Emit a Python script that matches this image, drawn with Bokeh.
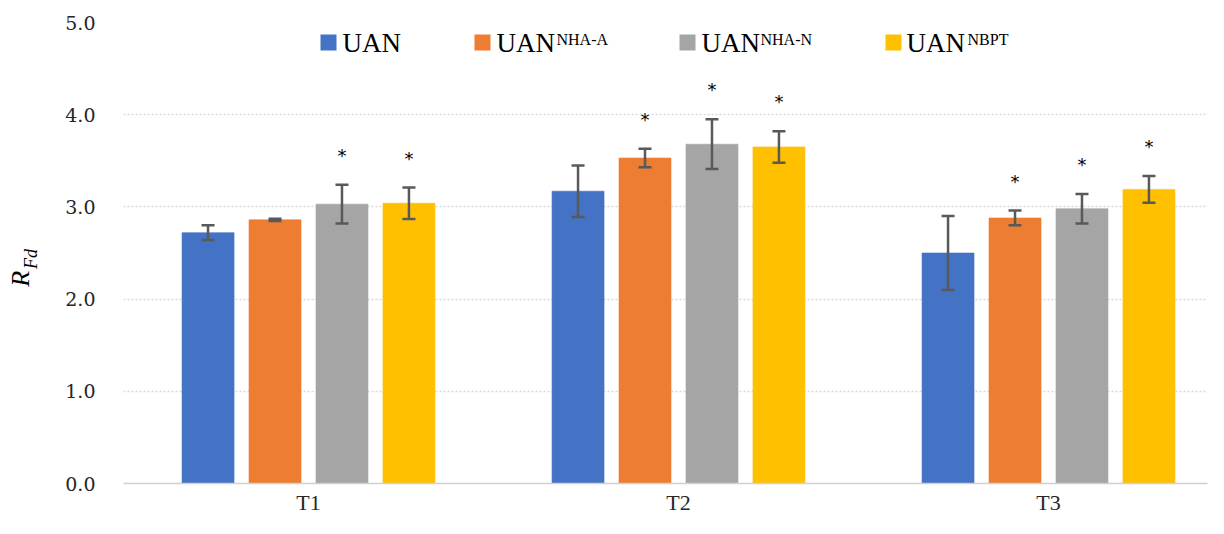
import math
from bokeh.plotting import figure
from bokeh.layouts import row
from bokeh.models import ColumnDataSource, Whisker, TeeHead, Label, FixedTicker, Range1d
from bokeh.core.properties import value
from bokeh.embed import file_html
from bokeh.resources import INLINE

# ---- data ----
categories = ["T1", "T2", "T3"]
series_sup = ["", "NHA-A", "NHA-N", "NBPT"]
colors = ["#4472C4", "#ED7D31", "#A5A5A5", "#FFC000"]

uan = [2.72, 3.17, 2.50]
uan_err = [0.08, 0.28, 0.40]
nha_a = [2.86, 3.53, 2.88]
nha_a_err = [0.012, 0.10, 0.08]
nha_n = [3.03, 3.68, 2.98]
nha_n_err = [0.21, 0.27, 0.16]
nbpt = [3.04, 3.65, 3.19]
nbpt_err = [0.17, 0.17, 0.145]

uan_sig = [False, False, False]
nha_a_sig = [False, True, True]
nha_n_sig = [True, True, True]
nbpt_sig = [True, True, True]

y_ticks = [0, 1, 2, 3, 4, 5]

values = [uan, nha_a, nha_n, nbpt]
errors = [uan_err, nha_a_err, nha_n_err, nbpt_err]
sigs = [uan_sig, nha_a_sig, nha_n_sig, nbpt_sig]

# ---- layout (page px) ----
TOTAL_W, H = 1208, 518
LW = 42                      # narrow panel holding the y-axis title
W = TOTAL_W - LW
FL, FR, FT, FB = 123 - LW, W - 1, 22, 483  # frame in main-canvas px
PX_PER_X = 370.0
x0 = -0.5
x1 = x0 + (FR - FL) / PX_PER_X
PX_PER_Y = (FB - FT) / 5.0

def dx(page_x):
    return x0 + (page_x - LW - FL) / PX_PER_X

def dy(page_y):
    return (FB - page_y) / PX_PER_Y

# ---- y-axis title panel ----
lp = figure(width=LW, height=H, output_backend="svg", toolbar_location=None,
            x_range=Range1d(0, LW), y_range=Range1d(0, H),
            min_border_left=0, min_border_right=0, min_border_top=0, min_border_bottom=0)
lp.axis.visible = False
lp.grid.visible = False
lp.outline_line_color = None
lp.text(x=[20], y=[H - 297], text=["R"], angle=math.pi / 2,
        text_font=value("Liberation Serif"), text_font_style="italic",
        text_font_size="26px", text_baseline="alphabetic", text_align="left",
        text_color="#000000")
lp.text(x=[30], y=[H - 277], text=["Fd"], angle=math.pi / 2,
        text_font=value("Liberation Serif"), text_font_style="italic",
        text_font_size="18px", text_baseline="alphabetic", text_align="left",
        text_color="#000000")

# ---- main chart ----
p = figure(width=W, height=H, output_backend="svg", toolbar_location=None,
           x_range=Range1d(x0, x1), y_range=Range1d(0, 5),
           min_border_left=FL, min_border_right=W - FR,
           min_border_top=FT, min_border_bottom=H - FB)
p.outline_line_color = None
p.xgrid.grid_line_color = None
p.ygrid.grid_line_color = "#d9d9d9"
p.ygrid.grid_line_dash = "2 2"
p.ygrid.grid_line_width = 1.5

p.yaxis.ticker = FixedTicker(ticks=y_ticks)
p.yaxis.major_label_overrides = {t: f"{t:.1f}" for t in y_ticks}
p.yaxis.axis_line_color = None
p.yaxis.major_tick_line_color = None
p.yaxis.minor_tick_line_color = None
p.yaxis.major_label_text_font = "DejaVu Serif"
p.yaxis.major_label_text_font_size = "19px"
p.yaxis.major_label_text_color = "#262626"
p.yaxis.major_label_standoff = 22

p.xaxis.ticker = FixedTicker(ticks=list(range(len(categories))))
p.xaxis.major_label_overrides = {i: c for i, c in enumerate(categories)}
p.xaxis.axis_line_color = "#d0d0d0"
p.xaxis.axis_line_width = 1.5
p.xaxis.major_tick_line_color = None
p.xaxis.minor_tick_line_color = None
p.xaxis.major_label_text_font = "Liberation Serif"
p.xaxis.major_label_text_font_size = "22px"
p.xaxis.major_label_text_color = "#262626"
p.xaxis.major_label_standoff = 0

bar_w = 0.1405
step = 0.181
star_xs, star_ys = [], []
for k in range(4):
    off = (k - 1.5) * step
    xs = [i + off for i in range(len(categories))]
    vals = values[k]
    errs = errors[k]
    src = ColumnDataSource(dict(x=xs, top=vals,
                                upper=[v + e for v, e in zip(vals, errs)],
                                lower=[v - e for v, e in zip(vals, errs)]))
    p.vbar(x="x", top="top", width=bar_w, source=src, fill_color=colors[k],
           line_color=colors[k], line_alpha=0.6)
    w = Whisker(base="x", upper="upper", lower="lower", source=src, level="overlay",
                line_color="#595959", line_width=2.5,
                upper_head=TeeHead(size=13, line_color="#595959", line_width=2.5),
                lower_head=TeeHead(size=13, line_color="#595959", line_width=2.5))
    p.add_layout(w)
    for i in range(len(categories)):
        if sigs[k][i]:
            star_xs.append(xs[i])
            star_ys.append(vals[i] + errs[i] + 0.32)

p.text(x=star_xs, y=star_ys, text=["*"] * len(star_xs), text_font=value("DejaVu Sans"),
       text_font_size="18px", text_align="center", text_baseline="middle",
       text_color="#000000")

# ---- legend (manual, for superscripts); page px ----
leg_sq = [328, 482, 687, 893]
leg_tx = [342, 496, 701, 906]
leg_sup = [None, 556, 760, 967]
for k in range(4):
    p.scatter(x=[dx(leg_sq[k])], y=[dy(42)], marker="square", size=16,
              fill_color=colors[k], line_color=None)
    p.add_layout(Label(x=dx(leg_tx[k]), y=dy(42), text="UAN", level="overlay",
                       text_font="Liberation Serif", text_font_size="27px",
                       text_baseline="alphabetic", text_align="left",
                       text_color="#000000"))
    if series_sup[k]:
        p.add_layout(Label(x=dx(leg_sup[k]), y=dy(39), text=series_sup[k], level="overlay",
                           text_font="Liberation Serif", text_font_size="16px",
                           text_baseline="alphabetic", text_align="left",
                           text_color="#000000"))

layout = row(lp, p, spacing=0)
open("out.html", "w").write(file_html(layout, INLINE))
